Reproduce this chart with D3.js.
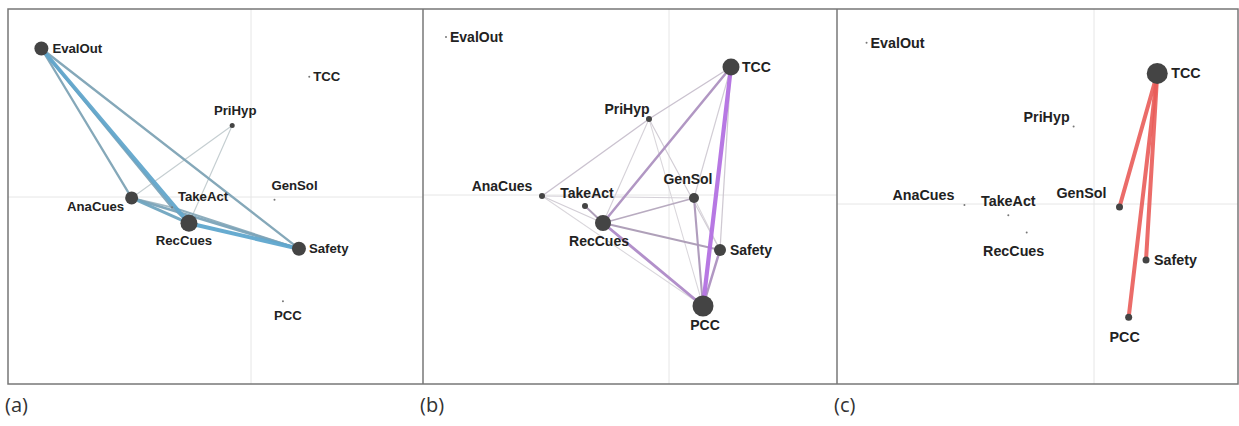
<!DOCTYPE html>
<html>
<head>
<meta charset="utf-8">
<script src="https://cdn.jsdelivr.net/npm/d3@7"></script>
<style>
  body { margin: 0; background: #fff; }
  svg { display: block; }
</style>
</head>
<body>
<svg id="chart" width="1239" height="426"></svg>
<script>
// codes (nodes) and their ENA positions, shared by the three panels
const codes = ['EvalOut', 'TCC', 'PriHyp', 'AnaCues', 'TakeAct', 'GenSol', 'RecCues', 'Safety', 'PCC'];
const codeX = [-2.23, 0.62, -0.20, -1.27, -0.84, 0.25, -0.66, 0.51, 0.34];
const codeY = [1.58, 1.28, 0.76, -0.01, -0.11, -0.03, -0.28, -0.55, -1.11];

// node weights per panel (same order as codes)
const nodesA = [0.60, 0.00, 0.15, 0.55, 0.00, 0.00, 0.75, 0.60, 0.00];
const nodesB = [0.00, 0.75, 0.20, 0.20, 0.20, 0.40, 0.70, 0.50, 0.95];
const nodesC = [0.00, 0.95, 0.00, 0.00, 0.00, 0.25, 0.00, 0.25, 0.25];

// edges per panel: [from, to, weight]
const edgesA = [
  ['AnaCues', 'PriHyp', 0.10],
  ['PriHyp', 'RecCues', 0.10],
  ['AnaCues', 'TakeAct', 0.25],
  ['TakeAct', 'RecCues', 0.35],
  ['TakeAct', 'Safety', 0.35],
  ['EvalOut', 'AnaCues', 0.40],
  ['EvalOut', 'Safety', 0.40],
  ['EvalOut', 'TakeAct', 0.45],
  ['AnaCues', 'Safety', 0.45],
  ['AnaCues', 'RecCues', 0.60],
  ['EvalOut', 'RecCues', 0.80],
  ['RecCues', 'Safety', 0.85]
];
const edgesB = [
  ['AnaCues', 'PCC', 0.06],
  ['PriHyp', 'PCC', 0.06],
  ['GenSol', 'Safety', 0.06],
  ['PriHyp', 'RecCues', 0.08],
  ['AnaCues', 'GenSol', 0.08],
  ['AnaCues', 'RecCues', 0.10],
  ['PriHyp', 'Safety', 0.10],
  ['TCC', 'GenSol', 0.10],
  ['TCC', 'Safety', 0.12],
  ['AnaCues', 'PriHyp', 0.15],
  ['PriHyp', 'TCC', 0.15],
  ['RecCues', 'GenSol', 0.25],
  ['TakeAct', 'RecCues', 0.30],
  ['RecCues', 'Safety', 0.30],
  ['GenSol', 'PCC', 0.35],
  ['TCC', 'RecCues', 0.45],
  ['Safety', 'PCC', 0.45],
  ['RecCues', 'PCC', 0.55],
  ['TCC', 'PCC', 0.90]
];
const edgesC = [
  ['TCC', 'GenSol', 0.85],
  ['TCC', 'Safety', 0.85],
  ['TCC', 'PCC', 0.85]
];

const captions = ['(a)', '(b)', '(c)'];

// layout of the three panels
const frameTop = 9, frameBottom = 384;
const panels = [
  { left: 8, right: 423, ox: 251, oy: 197, k: 94, nodes: nodesA, edges: edgesA,
    color: d3.scaleLinear().domain([0, 0.4, 1]).range(['#d8d8d8', '#7ea3b5', '#55a8d6']),
    labels: { EvalOut: [11, 0, 'start'], TCC: [4, 0, 'start'], PriHyp: [3, -15, 'middle'], GenSol: [20, -15, 'middle'],
      AnaCues: [-36, 8, 'middle'], TakeAct: [31, -11, 'middle'], RecCues: [-5, 17, 'middle'], Safety: [10, 0, 'start'], PCC: [5, 14, 'middle'] } },
  { left: 423, right: 837, ox: 669, oy: 195, k: 100, nodes: nodesB, edges: edgesB,
    color: d3.scaleLinear().domain([0, 0.3, 1]).range(['#e2e2e2', '#ab9bb5', '#b46ae8']),
    labels: { EvalOut: [4, 0, 'start'], TCC: [11, 0, 'start'], PriHyp: [-22, -10, 'middle'], GenSol: [-6, -19, 'middle'],
      AnaCues: [-40, -10, 'middle'], TakeAct: [2, -13, 'middle'], RecCues: [-4, 18, 'middle'], Safety: [10, 0, 'start'], PCC: [2, 19, 'middle'] } },
  { left: 837, right: 1238, ox: 1094, oy: 204, k: 102, nodes: nodesC, edges: edgesC,
    color: d3.scaleLinear().domain([0, 1]).range(['#f0a0a0', '#e8504c']),
    labels: { EvalOut: [4, 0, 'start'], TCC: [14, -1, 'start'], PriHyp: [-27, -10, 'middle'], GenSol: [-38, -14, 'middle'],
      AnaCues: [-41, -10, 'middle'], TakeAct: [0, -14, 'middle'], RecCues: [-13, 18, 'middle'], Safety: [8, 0, 'start'], PCC: [-4, 20, 'middle'] } }
];

const svg = d3.select('#chart');
const radius = d3.scaleLinear().domain([0, 1]).range([1, 11]);
const width = d3.scaleLinear().domain([0, 1]).range([0.8, 4.6]);

panels.forEach(function (p, pi) {
  let x = d3.scaleLinear().domain([0, 1]).range([p.ox, p.ox + p.k]);
  let y = d3.scaleLinear().domain([0, 1]).range([p.oy, p.oy - p.k]);
  let g = svg.append('g');

  // axes through the origin
  g.append('line').attr('x1', p.left).attr('x2', p.right).attr('y1', y(0)).attr('y2', y(0))
    .attr('stroke', '#e6e6e6').attr('stroke-width', 1);
  g.append('line').attr('x1', x(0)).attr('x2', x(0)).attr('y1', frameTop).attr('y2', frameBottom)
    .attr('stroke', '#e6e6e6').attr('stroke-width', 1);

  let nodes = codes.map((c, i) => ({ name: c, x: codeX[i], y: codeY[i], w: p.nodes[i] }));
  let byName = {};
  nodes.forEach(n => byName[n.name] = n);

  g.selectAll('line.edge').data(p.edges.slice().sort((a, b) => a[2] - b[2])).enter().append('line')
    .attr('class', 'edge')
    .attr('x1', d => x(byName[d[0]].x)).attr('y1', d => y(byName[d[0]].y))
    .attr('x2', d => x(byName[d[1]].x)).attr('y2', d => y(byName[d[1]].y))
    .attr('stroke', d => p.color(d[2]))
    .attr('stroke-opacity', pi === 2 ? 0.9 : 0.95)
    .attr('stroke-width', d => width(d[2]))
    .attr('stroke-linecap', 'round');

  g.selectAll('circle').data(nodes).enter().append('circle')
    .attr('cx', d => x(d.x)).attr('cy', d => y(d.y))
    .attr('r', d => radius(d.w))
    .attr('fill', d => d.w > 0 ? '#444' : '#777');

  g.selectAll('text.lbl').data(nodes).enter().append('text')
    .attr('class', 'lbl')
    .attr('x', d => x(d.x) + p.labels[d.name][0])
    .attr('y', d => y(d.y) + p.labels[d.name][1])
    .attr('dy', '0.36em')
    .attr('text-anchor', d => p.labels[d.name][2])
    .attr('font-family', '"Liberation Sans", Arial, sans-serif')
    .attr('font-weight', 'bold')
    .attr('font-size', (14 * p.k / 100).toFixed(1) + 'px')
    .attr('fill', '#222')
    .text(d => d.name);

  svg.append('text')
    .attr('x', p.left - 3).attr('y', 412)
    .attr('font-family', '"Open Sans", "Noto Sans", sans-serif')
    .attr('font-size', '20px')
    .attr('fill', '#333')
    .text(captions[pi]);
});

// frame and panel dividers
svg.append('rect').attr('x', 8).attr('y', frameTop).attr('width', 1230).attr('height', frameBottom - frameTop)
  .attr('fill', 'none').attr('stroke', '#777').attr('stroke-width', 1.5);
panels.slice(1).forEach(function (p) {
  svg.append('line').attr('x1', p.left).attr('x2', p.left).attr('y1', frameTop).attr('y2', frameBottom)
    .attr('stroke', '#777').attr('stroke-width', 1.5);
});
</script>
</body>
</html>
